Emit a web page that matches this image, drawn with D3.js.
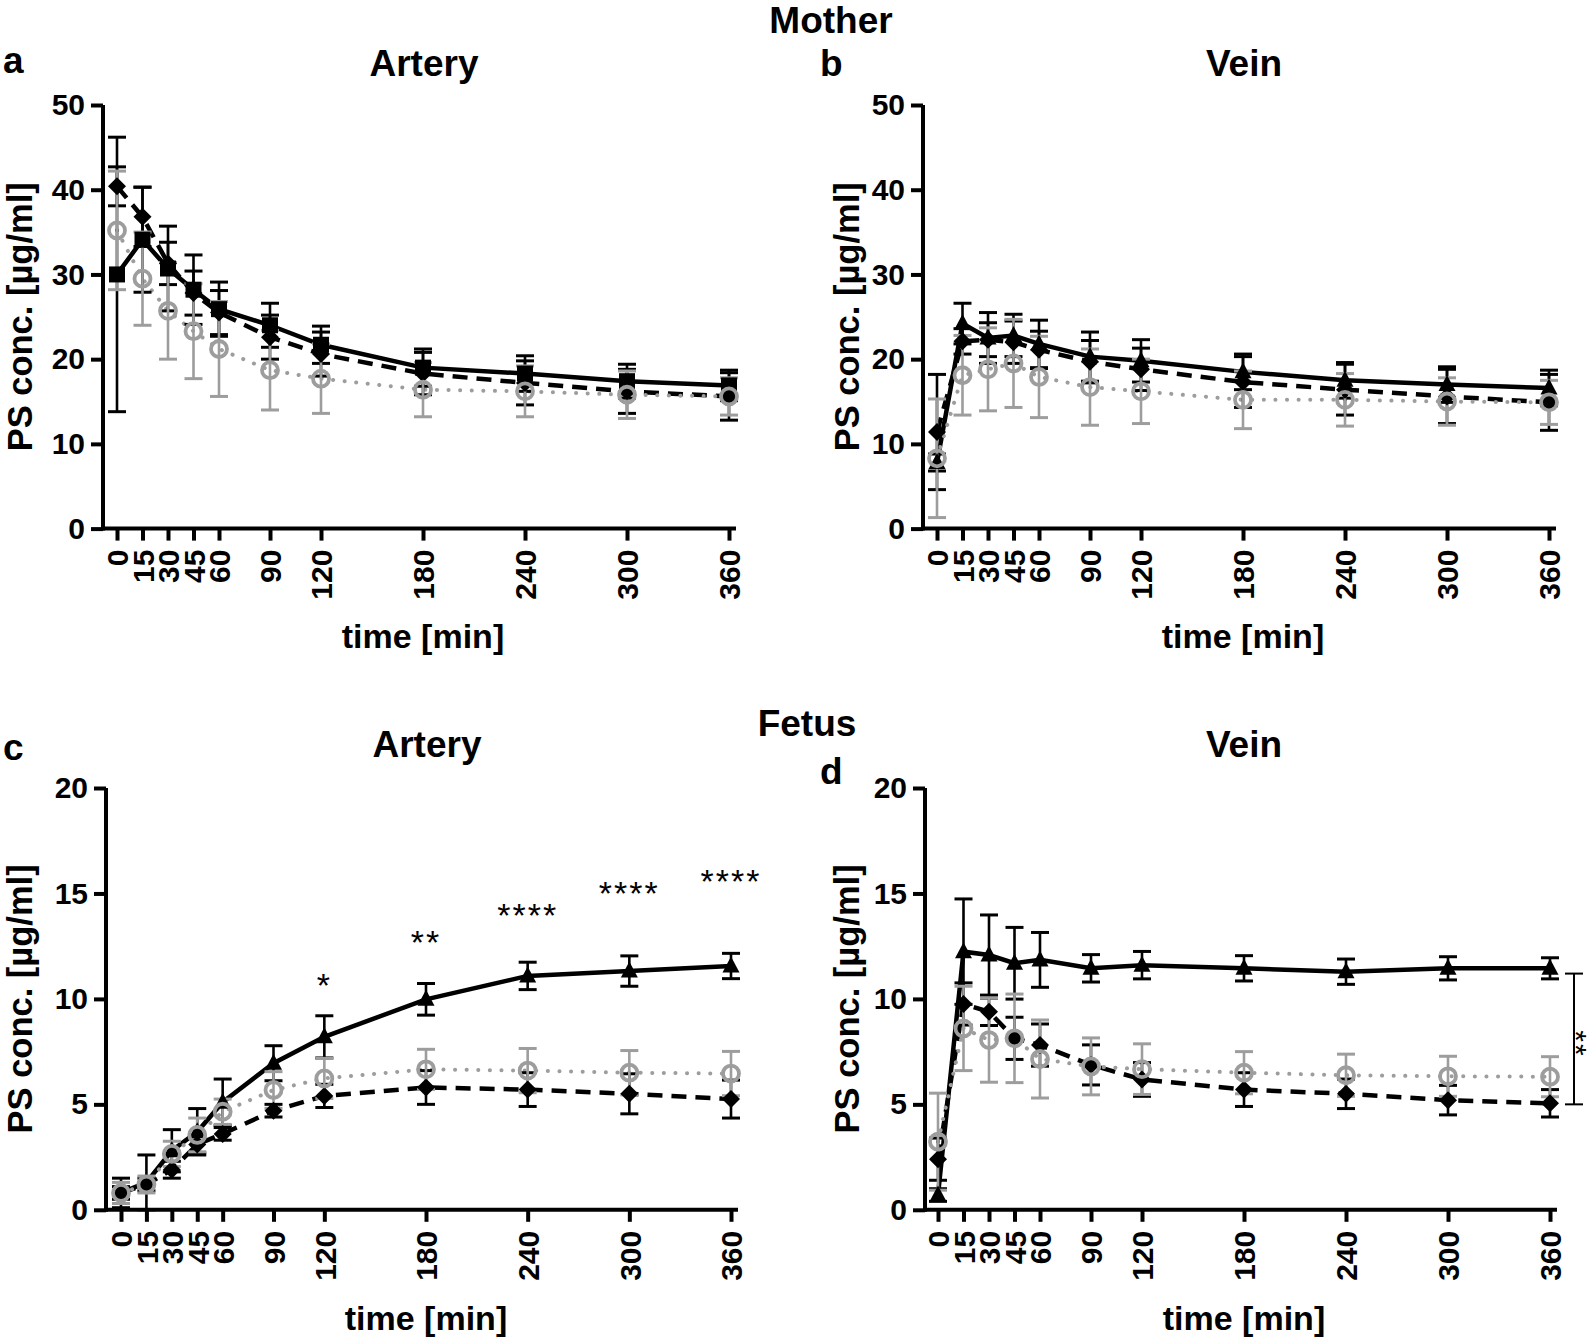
<!DOCTYPE html>
<html><head><meta charset="utf-8">
<script src="https://cdn.jsdelivr.net/npm/d3@7"></script>
<style>
body{margin:0;background:#fff;}
svg{display:block;}
</style></head><body>
<svg id="chart" width="1594" height="1342"></svg>
<script>
// ---------- data ----------
const times = [0, 15, 30, 45, 60, 90, 120, 180, 240, 300, 360];
const timeLabels = ["0", "15", "30", "45", "60", "90", "120", "180", "240", "300", "360"];

// Panel a: Mother, Artery
const aSolid    = [30.0, 34.1, 30.7, 28.2, 25.9, 24.0, 21.7, 19.0, 18.3, 17.4, 16.9];
const aSolidSD  = [16.2, 6.2, 5.0, 4.1, 3.2, 2.6, 2.2, 2.2, 2.1, 2.0, 1.8];
const aDashed   = [40.4, 36.8, 31.3, 27.8, 25.5, 22.6, 20.6, 18.3, 17.2, 16.2, 15.6];
const aDashedSD = [2.3, 3.5, 2.5, 2.6, 2.6, 2.6, 2.6, 2.5, 2.6, 2.6, 2.8];
const aDotted   = [35.2, 29.5, 25.7, 23.3, 21.2, 18.7, 17.7, 16.4, 16.2, 15.8, 15.6];
const aDottedSD = [7.0, 5.5, 5.7, 5.6, 5.6, 4.7, 4.1, 3.2, 3.0, 2.8, 2.2];

// Panel b: Mother, Vein
const bSolid    = [7.8, 24.2, 22.5, 22.8, 21.8, 20.3, 19.8, 18.5, 17.5, 17.0, 16.6];
const bSolidSD  = [1.0, 2.4, 3.0, 2.5, 2.8, 2.9, 2.5, 2.1, 2.1, 2.1, 2.1];
const bDashed   = [11.4, 22.1, 22.3, 22.0, 21.1, 19.7, 18.8, 17.3, 16.4, 15.6, 14.9];
const bDashedSD = [6.8, 1.5, 2.0, 2.5, 2.2, 2.5, 2.5, 3.0, 3.0, 3.2, 3.3];
const bDotted   = [8.3, 18.1, 18.8, 19.5, 17.9, 16.7, 16.2, 15.2, 15.2, 15.0, 14.9];
const bDottedSD = [7.0, 4.7, 4.9, 5.2, 4.8, 4.5, 3.8, 3.4, 3.1, 2.8, 2.6];

// Panel c: Fetus, Artery
const cSolid    = [0.8, 1.3, 2.8, 3.7, 5.1, 6.95, 8.2, 9.98, 11.09, 11.32, 11.56];
const cSolidSD  = [0.7, 1.3, 1.0, 1.1, 1.1, 0.83, 1.0, 0.75, 0.65, 0.72, 0.6];
const cDashed   = [0.8, 1.2, 1.9, 3.1, 3.6, 4.7, 5.4, 5.8, 5.7, 5.5, 5.25];
const cDashedSD = [0.3, 0.3, 0.4, 0.4, 0.3, 0.3, 0.55, 0.8, 0.8, 0.95, 0.9];
const cDotted   = [0.8, 1.2, 2.65, 3.55, 4.65, 5.68, 6.23, 6.66, 6.6, 6.5, 6.46];
const cDottedSD = [0.5, 0.4, 0.6, 0.8, 0.6, 0.87, 0.95, 0.95, 1.05, 1.05, 1.05];

// Panel d: Fetus, Vein
const dSolid    = [0.7, 12.24, 12.08, 11.69, 11.85, 11.45, 11.6, 11.45, 11.29, 11.45, 11.45];
const dSolidSD  = [0.3, 2.5, 1.9, 1.7, 1.3, 0.65, 0.65, 0.6, 0.6, 0.55, 0.5];
const dDashed   = [2.4, 9.76, 9.39, 8.13, 7.81, 6.87, 6.18, 5.7, 5.5, 5.2, 5.05];
const dDashedSD = [1.0, 1.0, 0.65, 1.0, 1.0, 0.95, 0.8, 0.8, 0.7, 0.7, 0.65];
const dDotted   = [3.23, 8.6, 8.05, 8.13, 7.15, 6.8, 6.67, 6.5, 6.38, 6.33, 6.31];
const dDottedSD = [2.3, 2.0, 2.0, 2.1, 1.85, 1.35, 1.2, 1.0, 1.0, 0.95, 0.95];

// tick labels / annotations
const yTicksMother = [0, 10, 20, 30, 40, 50];
const yTicksFetus = [0, 5, 10, 15, 20];
const starsC = [
  {t: 120, y: 10.82, label: "*"},
  {t: 180, y: 12.84, label: "**"},
  {t: 240, y: 14.13, label: "****"},
  {t: 300, y: 15.16, label: "****"},
  {t: 360, y: 15.73, label: "****"}
];
const bracketD = {from: 5.0, to: 11.2, label: "**"};

// ---------- drawing ----------
const FONT = "'Liberation Sans', Arial, Helvetica, sans-serif";
const GRAY = "#9d9d9d";
const svg = d3.select("#chart");

const panels = [
  {letter: "a", title: "Artery", solid: aSolid, solidSD: aSolidSD, dashed: aDashed, dashedSD: aDashedSD, dotted: aDotted, dottedSD: aDottedSD,
   solidMarker: "square", yMax: 50, yTicks: yTicksMother,
   axisX: 103, x0: 117, x1: 729, yB: 528.6, yT: 105, letterX: 3, letterY: 73, titleX: 424, titleY: 76, ylabX: 32, xlabY: 648},
  {letter: "b", title: "Vein", solid: bSolid, solidSD: bSolidSD, dashed: bDashed, dashedSD: bDashedSD, dotted: bDotted, dottedSD: bDottedSD,
   solidMarker: "triangle", yMax: 50, yTicks: yTicksMother,
   axisX: 923, x0: 937, x1: 1549, yB: 528.6, yT: 105, letterX: 820, letterY: 76, titleX: 1244, titleY: 76, ylabX: 859, xlabY: 648},
  {letter: "c", title: "Artery", solid: cSolid, solidSD: cSolidSD, dashed: cDashed, dashedSD: cDashedSD, dotted: cDotted, dottedSD: cDottedSD,
   solidMarker: "triangle", yMax: 20, yTicks: yTicksFetus,
   axisX: 106, x0: 121, x1: 731, yB: 1209.8, yT: 788, letterX: 3, letterY: 760, titleX: 427, titleY: 757, ylabX: 32, xlabY: 1330},
  {letter: "d", title: "Vein", solid: dSolid, solidSD: dSolidSD, dashed: dDashed, dashedSD: dDashedSD, dotted: dDotted, dottedSD: dDottedSD,
   solidMarker: "triangle", yMax: 20, yTicks: yTicksFetus,
   axisX: 925, x0: 938, x1: 1550, yB: 1209.8, yT: 788, letterX: 820, letterY: 784, titleX: 1244, titleY: 757, ylabX: 859, xlabY: 1330}
];

function markerPath(type) {
  if (type === "square") return "M-8,-8H8V8H-8Z";
  if (type === "triangle") return "M0,-9.5L8.5,6.5H-8.5Z";
  if (type === "diamond") return "M0,-9L9,0L0,9L-9,0Z";
  return "";
}

function txt(g, x, y, s, size, opts = {}) {
  const t = g.append("text").attr("x", x).attr("y", y).text(s)
    .attr("font-family", FONT).attr("font-size", size)
    .attr("font-weight", opts.weight || "bold").attr("fill", "#000")
    .attr("text-anchor", opts.anchor || "middle");
  if (opts.transform) t.attr("transform", opts.transform);
  if (opts.ls) t.attr("letter-spacing", opts.ls);
  return t;
}

function drawPanel(p) {
  const g = svg.append("g");
  const x = d3.scaleLinear().domain([0, 360]).range([p.x0, p.x1]);
  const y = d3.scaleLinear().domain([0, p.yMax]).range([p.yB, p.yT]);

  // y axis
  const gy = g.append("g").attr("transform", `translate(${p.axisX},0)`)
    .call(d3.axisLeft(y).tickValues(p.yTicks).tickSize(12).tickSizeOuter(0).tickPadding(6));
  gy.select(".domain").remove();
  gy.attr("font-family", FONT).attr("font-size", 30).attr("font-weight", "bold");
  gy.selectAll(".tick line").attr("stroke", "#000").attr("stroke-width", 4);
  gy.selectAll(".tick text").attr("fill", "#000");
  g.append("line").attr("x1", p.axisX).attr("x2", p.axisX).attr("y1", y(0) + 2).attr("y2", y(p.yMax))
    .attr("stroke", "#000").attr("stroke-width", 4);

  // x axis
  const gx = g.append("g").attr("transform", `translate(0,${y(0)})`)
    .call(d3.axisBottom(x).tickValues(times).tickFormat((d, i) => timeLabels[i]).tickSize(12).tickSizeOuter(0));
  gx.select(".domain").remove();
  gx.attr("font-family", FONT).attr("font-size", 30).attr("font-weight", "bold");
  gx.selectAll(".tick line").attr("stroke", "#000").attr("stroke-width", 4);
  gx.selectAll(".tick text").attr("fill", "#000")
    .attr("transform", "rotate(-90)").attr("x", -21).attr("y", 0).attr("dy", "0.36em").attr("text-anchor", "end");
  g.append("line").attr("x1", p.axisX - 2).attr("x2", x(360) + 7).attr("y1", y(0)).attr("y2", y(0))
    .attr("stroke", "#000").attr("stroke-width", 4);

  // axis titles
  txt(g, (p.x0 + p.x1) / 2, p.xlabY, "time [min]", 34);
  const cy = (p.yB + p.yT) / 2;
  txt(g, p.ylabX, cy, "PS conc. [µg/ml]", 34.5, {transform: `rotate(-90,${p.ylabX},${cy})`});
  // panel title and letter
  txt(g, p.titleX, p.titleY, p.title, 37);
  txt(g, p.letterX, p.letterY, p.letter, 37, {anchor: "start"});

  const line = d3.line().x((d, i) => x(times[i])).y(d => y(d));
  const series = [
    {vals: p.solid, sd: p.solidSD, color: "#000", dash: null, marker: p.solidMarker},
    {vals: p.dashed, sd: p.dashedSD, color: "#000", dash: "15 9", marker: "diamond"},
    {vals: p.dotted, sd: p.dottedSD, color: GRAY, dash: "0.1 11.5", marker: "circle"}
  ];
  // lines
  series.forEach(s => {
    const l = g.append("path").attr("d", line(s.vals)).attr("fill", "none")
      .attr("stroke", s.color).attr("stroke-width", s.marker === "circle" ? 4 : 4.5);
    if (s.dash) l.attr("stroke-dasharray", s.dash);
    if (s.marker === "circle") l.attr("stroke-linecap", "round");
  });
  // error bars
  series.forEach(s => {
    const eg = g.append("g").attr("stroke", s.color);
    s.vals.forEach((v, i) => {
      const cx = x(times[i]);
      const yHi = y(v + s.sd[i]), yLo = y(Math.max(0, v - s.sd[i]));
      eg.append("line").attr("x1", cx).attr("x2", cx).attr("y1", yHi).attr("y2", yLo).attr("stroke-width", 2.6);
      eg.append("line").attr("x1", cx - 9).attr("x2", cx + 9).attr("y1", yHi).attr("y2", yHi).attr("stroke-width", 3);
      eg.append("line").attr("x1", cx - 9).attr("x2", cx + 9).attr("y1", yLo).attr("y2", yLo).attr("stroke-width", 3);
    });
  });
  // markers
  series.forEach(s => {
    s.vals.forEach((v, i) => {
      const cx = x(times[i]), cy = y(v);
      if (s.marker === "circle") {
        g.append("circle").attr("cx", cx).attr("cy", cy).attr("r", 8)
          .attr("fill", "none").attr("stroke", GRAY).attr("stroke-width", 3.8);
      } else {
        g.append("path").attr("d", markerPath(s.marker)).attr("transform", `translate(${cx},${cy})`)
          .attr("fill", "#000");
      }
    });
  });
  return {g, x, y};
}

const drawn = panels.map(drawPanel);

// group titles
txt(svg, 831, 33, "Mother", 37);
txt(svg, 807, 736, "Fetus", 37);

// significance stars panel c
{
  const {g, x, y} = drawn[2];
  starsC.forEach(s => {
    txt(g, x(s.t), y(s.y) + 15, s.label, 34, {weight: "normal", ls: 2});
  });
}
// bracket panel d
{
  const {g, x, y} = drawn[3];
  const bx = x(360) + 24;
  const bg = g.append("g").attr("stroke", "#000").attr("stroke-width", 2);
  bg.append("line").attr("x1", bx).attr("x2", bx).attr("y1", y(bracketD.to)).attr("y2", y(bracketD.from));
  bg.append("line").attr("x1", bx - 9).attr("x2", bx + 9).attr("y1", y(bracketD.to)).attr("y2", y(bracketD.to));
  bg.append("line").attr("x1", bx - 9).attr("x2", bx + 9).attr("y1", y(bracketD.from)).attr("y2", y(bracketD.from));
  const my = (y(bracketD.to) + y(bracketD.from)) / 2 + 5;
  const sx = bx - 8;
  txt(g, sx, my, bracketD.label, 30, {weight: "normal", ls: 2, transform: `rotate(90,${sx},${my})`});
}
</script>
</body></html>
